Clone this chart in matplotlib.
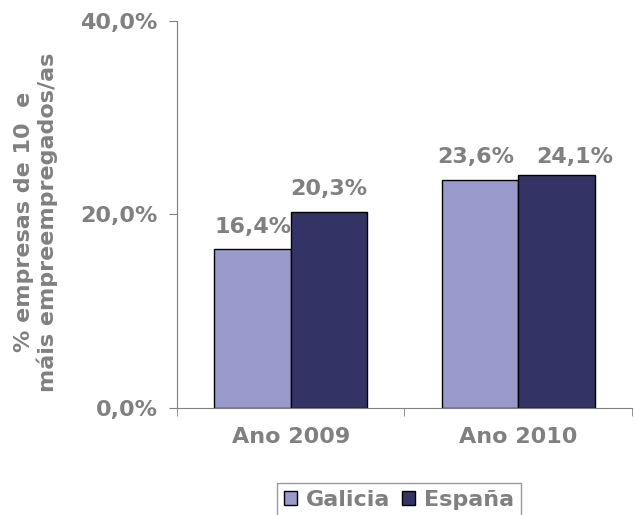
import matplotlib.pyplot as plt
import numpy as np

# Datos
categorias = ['Ano 2009', 'Ano 2010']
galicia = [16.4, 23.6]
espana = [20.3, 24.1]
series = ['Galicia', 'España']
cores = ['#9999CC', '#333366']

gris = '#808080'
fs = 16

fig = plt.figure(figsize=(6.35, 5.15), dpi=100)
ax = fig.add_axes([0.279, 0.208, 0.716, 0.751])

x = np.arange(len(categorias))
w = 0.336
b1 = ax.bar(x - w / 2, galicia, w, color=cores[0], edgecolor='black', linewidth=1, label=series[0])
b2 = ax.bar(x + w / 2, espana, w, color=cores[1], edgecolor='black', linewidth=1, label=series[1])

# Etiquetas de datos (desprazamento en puntos, como no orixinal)
desp = {(1, 0): (-3, 9), (1, 1): (13, 6)}
for j, (barras, vals) in enumerate([(b1, galicia), (b2, espana)]):
    for i, (r, v) in enumerate(zip(barras, vals)):
        ax.annotate(f'{v:.1f}%'.replace('.', ','),
                    (r.get_x() + r.get_width() / 2, v),
                    xytext=desp.get((i, j), (0, 9)), textcoords='offset points',
                    ha='center', va='bottom', fontsize=fs,
                    fontweight='bold', color=gris)

# Ejes
ax.set_xlim(-0.5, 1.5)
ax.set_ylim(0, 40)
ax.set_yticks([0, 20, 40])
ax.set_yticklabels(['0,0%', '20,0%', '40,0%'])
ax.set_xticks(x)
ax.set_xticklabels(categorias)
ax.set_xticks([-0.5, 0.5, 1.5], minor=True)
ax.tick_params(axis='x', which='major', length=0, pad=14)
ax.tick_params(axis='x', which='minor', length=6, color=gris)
ax.tick_params(axis='y', length=6, color=gris, pad=8)
for lab in ax.get_xticklabels() + ax.get_yticklabels():
    lab.set_fontsize(fs)
    lab.set_fontweight('bold')
    lab.set_color(gris)

for s in ['top', 'right']:
    ax.spines[s].set_visible(False)
for s in ['left', 'bottom']:
    ax.spines[s].set_color(gris)

ax.set_ylabel('% empresas de 10  e\nmáis empreempregados/as',
              fontsize=fs, fontweight='bold', color=gris,
              linespacing=1.15)
ax.yaxis.set_label_coords(-0.262, 0.48)

leg = ax.legend(loc='upper center', bbox_to_anchor=(0.488, -0.194), ncol=2,
                frameon=True, fancybox=False, fontsize=fs,
                handlelength=0.6, handleheight=0.6, handletextpad=0.4,
                columnspacing=0.5, borderpad=0.3, borderaxespad=0)
leg.get_frame().set_edgecolor(gris)
leg.get_frame().set_linewidth(1)
for t in leg.get_texts():
    t.set_fontweight('bold')
    t.set_color(gris)

fig.savefig('out.png', dpi=100)
